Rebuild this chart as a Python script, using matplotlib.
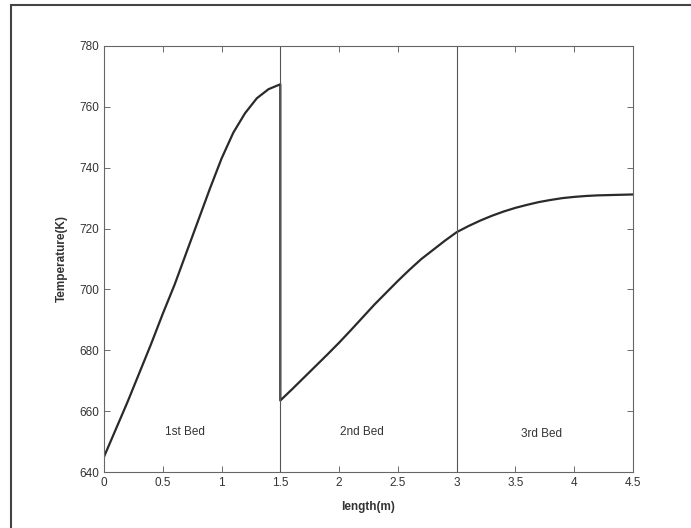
import matplotlib
matplotlib.use("Agg")
import matplotlib.pyplot as plt
from matplotlib.patches import Rectangle

plt.rcParams['font.family'] = ['Liberation Sans', 'DejaVu Sans']

# bed 1
x1 = [0.0, 0.1, 0.2, 0.3, 0.4, 0.5, 0.6, 0.7, 0.8, 0.9, 1.0, 1.1, 1.2, 1.3, 1.4, 1.5]
t1 = [645.0, 654.0, 663.0, 672.5, 682.0, 692.0, 701.5, 712.0, 722.5, 733.0,
      743.0, 751.5, 757.9, 762.8, 765.8, 767.4]
# bed 2
x2 = [1.5, 1.6, 1.7, 1.8, 1.9, 2.0, 2.1, 2.2, 2.3, 2.4, 2.5, 2.6, 2.7, 2.8, 2.9, 3.0]
t2 = [663.5, 667.2, 671.0, 674.8, 678.6, 682.5, 686.6, 690.8, 695.0, 698.9,
      702.8, 706.5, 710.0, 713.0, 716.0, 718.8]
# bed 3
x3 = [3.0, 3.1, 3.2, 3.3, 3.4, 3.5, 3.6, 3.7, 3.8, 3.9, 4.0, 4.1, 4.2, 4.3, 4.4, 4.5]
t3 = [718.8, 720.8, 722.6, 724.2, 725.6, 726.8, 727.8, 728.7, 729.4, 730.0,
      730.4, 730.7, 730.9, 731.0, 731.1, 731.2]

bed_labels = ['1st Bed', '2nd Bed', '3rd Bed']
bed_label_x = [0.69, 2.19, 3.72]
bed_label_y = [653, 653, 652.5]
bed_edges = [1.5, 3.0]

# the drop at 1.5 is kept (x repeated), the join at 3.0 is not
length = x1 + x2 + x3[1:]
temp = t1 + t2 + t3[1:]

fig = plt.figure(figsize=(6.91, 5.28), dpi=100)
ax = fig.add_axes([0.1505, 0.106, 0.7655, 0.807])

ax.plot(length, temp, color='#2a2a2a', lw=1.6)
for e in bed_edges:
    ax.axvline(e, color='#555555', lw=0.8)
for lab, lx, ly in zip(bed_labels, bed_label_x, bed_label_y):
    ax.text(lx, ly, lab, ha='center', va='center', fontsize=8.5, color='#333333')

ax.set_xlim(0, 4.5)
ax.set_ylim(640, 780)
ax.set_xticks([0, 0.5, 1, 1.5, 2, 2.5, 3, 3.5, 4, 4.5])
ax.set_xticklabels(['0', '0.5', '1', '1.5', '2', '2.5', '3', '3.5', '4', '4.5'])
ax.set_yticks(range(640, 781, 20))
ax.tick_params(direction='in', top=True, right=True, length=4, width=0.6,
               labelsize=8.5, colors='#555555', labelcolor='#333333')
for s in ax.spines.values():
    s.set_color('#666666')
    s.set_linewidth(0.8)

ax.set_xlabel('length(m)', fontsize=8.5, fontweight='bold', color='#333333', labelpad=9)
ax.set_ylabel('Temperature(K)', fontsize=8.5, fontweight='bold', color='#333333', labelpad=8)

# scanned page frame
fig.patches.append(Rectangle((11 / 691, -0.1), 1.2, 1 - 5 / 528 + 0.1,
                             transform=fig.transFigure, fill=False,
                             edgecolor='#444444', lw=1.5))

fig.savefig('out.png', dpi=100)
